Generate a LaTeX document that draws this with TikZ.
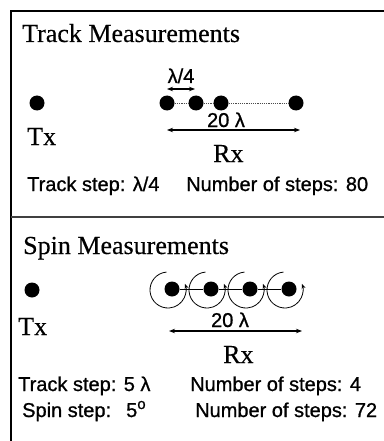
\documentclass[tikz,border=0pt]{standalone}
\usepackage{fontspec}
\setmainfont[FakeBold=0.3]{Liberation Serif}
\setsansfont[FakeBold=0.9]{Liberation Sans}
\usetikzlibrary{arrows.meta}
\begin{document}
\begin{tikzpicture}[x=1pt,y=-1pt,
  dot/.style={circle,fill=black,inner sep=0pt,minimum size=15pt},
  titletext/.style={font=\fontsize{26}{26}\selectfont,anchor=base west,inner sep=0pt},
  lab/.style={font=\fontsize{26}{26}\selectfont,anchor=base west,inner sep=0pt},
  info/.style={font=\sffamily\fontsize{20}{20}\selectfont,anchor=base west,inner sep=0pt},
  dimarrow/.style={line width=1.1pt,{Stealth[length=6pt,width=4.5pt]}-{Stealth[length=6pt,width=4.5pt]}},
  dotline/.style={line width=0.7pt,black!70,dash pattern=on 1.2pt off 1pt},
  spinarc/.style={line width=0.8pt,-{Stealth[length=5pt,width=4pt]}},
  axisline/.style={line width=0.8pt}]
\useasboundingbox (0,0) rectangle (383,441);
\fill[white] (0,0) rectangle (383,441);
% frame
\draw[line width=1.5pt] (11,441) -- (11,11) -- (384,11);
\draw[line width=1.3pt,black!75] (11,217) -- (384,217);

% ---------- Track measurements ----------
\node[titletext] (t1) at (22,42) {Track Measurements};
\node[dot] (tx1) at (37,103) {};
\node[lab] (txl1) at (27,145) {Tx};
\node[dot] (r1) at (167,103) {};
\node[dot] (r2) at (196,103) {};
\node[dot] (r3) at (221,103) {};
\node[dot] (r4) at (296,103) {};
\draw[dotline] (r1) -- (r2);
\draw[dotline] (r2) -- (r3);
\draw[dotline] (r3) -- (r4);
\coordinate (qa) at (167,89);
\coordinate (qb) at (195,89);
\draw[dimarrow] (qa) -- (qb);
\node[info,anchor=base] (ql) at (181,83) {λ/4};
\coordinate (wa) at (167,130);
\coordinate (wb) at (300,130);
\draw[dimarrow] (wa) -- (wb);
\node[info,anchor=base] (wl) at (226,127) {20 λ};
\node[lab] (rxl1) at (213,162) {Rx};
\node[info] (ts1) at (27,191) {Track step: λ/4};
\node[info] (ns1) at (186,191) {Number of steps: 80};

% ---------- Spin measurements ----------
\node[titletext] (t2) at (23,254) {Spin Measurements};
\node[dot] (tx2) at (32,290) {};
\node[lab] (txl2) at (18,335) {Tx};
\node[dot] (s1) at (172,289) {};
\node[dot] (s2) at (211,289) {};
\node[dot] (s3) at (250,289) {};
\node[dot] (s4) at (289,289) {};
\draw[axisline] (s1) -- (s2);
\draw[axisline] (s2) -- (s3);
\draw[axisline] (s3) -- (s4);
\foreach \s in {s1,s2,s3,s4}{
  \draw[spinarc] ([shift={(-4,1)}]\s.center) ++(-95:18) arc[start angle=-95,end angle=-380,radius=18];
}
\coordinate (va) at (169,331);
\coordinate (vb) at (302,331);
\draw[dimarrow] (va) -- (vb);
\node[info,anchor=base] (vl) at (230,327) {20 λ};
\node[lab] (rxl2) at (223,363) {Rx};
\node[info] (ts2) at (18,391) {Track step: 5 λ};
\node[info] (ns2) at (190,391) {Number of steps: 4};
\node[info] (ss2) at (22,417) {Spin step:};
\node[info] (deg2) at (126,417) {5\raisebox{8pt}{\fontsize{15}{15}\selectfont o}};
\node[info] (nss2) at (195,417) {Number of steps: 72};
\end{tikzpicture}
\end{document}
